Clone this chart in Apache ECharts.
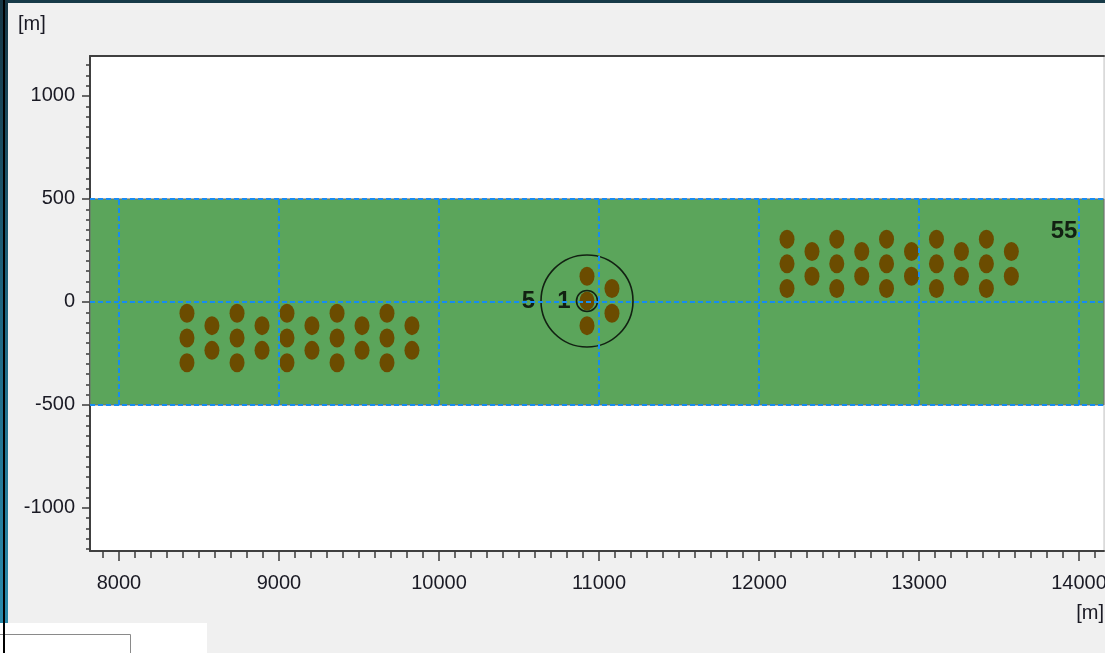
<!DOCTYPE html>
<html>
<head>
<meta charset="utf-8">
<script src="https://cdn.jsdelivr.net/npm/echarts@6.0.0/dist/echarts.min.js"></script>
<style>
  html, body { margin: 0; padding: 0; background: #f0f0f0; overflow: hidden; }
  #chart { width: 1105px; height: 653px; }
</style>
</head>
<body>
<div id="chart"></div>
<script>
// Axis extents (metres)
const X_MIN = 7819, X_MAX = 14156;
const Y_MIN = -1209, Y_MAX = 1194;

// Tick positions and labels
const xMajorTicks = [8000, 9000, 10000, 11000, 12000, 13000, 14000];
const xMinorTicks = [7900, 8000, 8100, 8200, 8300, 8400, 8500, 8600, 8700, 8800, 8900,
  9000, 9100, 9200, 9300, 9400, 9500, 9600, 9700, 9800, 9900,
  10000, 10100, 10200, 10300, 10400, 10500, 10600, 10700, 10800, 10900,
  11000, 11100, 11200, 11300, 11400, 11500, 11600, 11700, 11800, 11900,
  12000, 12100, 12200, 12300, 12400, 12500, 12600, 12700, 12800, 12900,
  13000, 13100, 13200, 13300, 13400, 13500, 13600, 13700, 13800, 13900,
  14000, 14100];
const yMajorTicks = [-1000, -500, 0, 500, 1000];
const yMinorTicks = [-1200, -1150, -1100, -1050, -1000, -950, -900, -850, -800, -750,
  -700, -650, -600, -550, -500, -450, -400, -350, -300, -250, -200, -150, -100, -50,
  0, 50, 100, 150, 200, 250, 300, 350, 400, 450, 500, 550, 600, 650, 700, 750,
  800, 850, 900, 950, 1000, 1050, 1100, 1150];

// Corridor band and its reference lines
const bandRange = [-500, 500];
const gridLinesX = [8000, 9000, 10000, 11000, 12000, 13000, 14000];
const gridLinesY = [-500, 0, 500];

// Turbine positions [x, y]
const westGroup = [
  [8425, -55], [8425, -175], [8425, -295],
  [8581, -115], [8581, -235],
  [8738, -55], [8738, -175], [8738, -295],
  [8894, -115], [8894, -235],
  [9050, -55], [9050, -175], [9050, -295],
  [9206, -115], [9206, -235],
  [9363, -55], [9363, -175], [9363, -295],
  [9519, -115], [9519, -235],
  [9675, -55], [9675, -175], [9675, -295],
  [9831, -115], [9831, -235]
];
const centreGroup = [
  [10925, 125], [10925, 5], [10925, -115],
  [11081, 65], [11081, -55]
];
const eastGroup = [
  [12175, 305], [12175, 185], [12175, 65],
  [12331, 245], [12331, 125],
  [12486, 305], [12486, 185], [12486, 65],
  [12642, 245], [12642, 125],
  [12797, 305], [12797, 185], [12797, 65],
  [12953, 245], [12953, 125],
  [13109, 305], [13109, 185], [13109, 65],
  [13265, 245], [13265, 125],
  [13421, 305], [13421, 185], [13421, 65],
  [13577, 245], [13577, 125]
];

// Range rings around the centre turbine: [x, y, label]
const rings = [[10925, 5, '5'], [10925, 5, '1']];
const ringPixelSizes = [92, 21];

// Free text annotations: [x, y, text]
const notes = [[13906, 345, '55']];

const FONT = '"Liberation Sans", Arial, sans-serif';
const TICK_COLOR = '#3a3a3a';
const LABEL_COLOR = '#1a1a24';

const chart = echarts.init(document.getElementById('chart'), null, { renderer: 'canvas' });

const hidden = { show: false };
const plainNumber = v => String(v);
const option = {
  backgroundColor: '#f0f0f0',
  animation: false,
  grid: {
    left: 90, top: 56, width: 1014, height: 495,
    outerBoundsMode: 'none', containLabel: false,
    show: true, backgroundColor: '#ffffff',
    borderColor: '#c4c4c4', borderWidth: 1
  },
  xAxis: [
    {
      type: 'value', min: X_MIN, max: X_MAX, position: 'bottom',
      axisLine: { show: true, onZero: false, lineStyle: { color: '#404040', width: 2 } },
      axisTick: { show: true, customValues: xMinorTicks, length: 7, lineStyle: { color: TICK_COLOR, width: 1.5 } },
      axisLabel: hidden, splitLine: hidden
    },
    {
      type: 'value', min: X_MIN, max: X_MAX, position: 'bottom',
      axisLine: { show: false, onZero: false },
      axisTick: { show: true, customValues: xMajorTicks, length: 10, lineStyle: { color: TICK_COLOR, width: 1.5 } },
      axisLabel: {
        show: true, customValues: xMajorTicks, margin: 22, formatter: plainNumber,
        fontSize: 20, fontFamily: FONT, color: LABEL_COLOR
      },
      splitLine: hidden
    },
    {
      type: 'value', min: X_MIN, max: X_MAX, position: 'top',
      axisLine: { show: true, onZero: false, lineStyle: { color: '#404040', width: 2 } },
      axisTick: hidden, axisLabel: hidden, splitLine: hidden
    }
  ],
  yAxis: [
    {
      type: 'value', min: Y_MIN, max: Y_MAX, position: 'left',
      axisLine: { show: true, onZero: false, lineStyle: { color: '#404040', width: 2 } },
      axisTick: { show: true, customValues: yMinorTicks, length: 4, lineStyle: { color: TICK_COLOR, width: 1.5 } },
      axisLabel: hidden, splitLine: hidden
    },
    {
      type: 'value', min: Y_MIN, max: Y_MAX, position: 'left',
      axisLine: { show: false, onZero: false },
      axisTick: { show: true, customValues: yMajorTicks, length: 8, lineStyle: { color: TICK_COLOR, width: 1.5 } },
      axisLabel: {
        show: true, customValues: yMajorTicks, margin: 15, formatter: plainNumber,
        padding: [5, 0, 0, 0],
        fontSize: 20, fontFamily: FONT, color: LABEL_COLOR
      },
      splitLine: hidden
    }
  ],
  series: [
    {
      // corridor band with dashed reference lines
      name: 'corridor', type: 'scatter', data: [], z: 1, silent: true,
      markArea: {
        silent: true,
        itemStyle: { color: '#5ba55b', borderColor: '#6e6e6e', borderWidth: 1 },
        data: [[{ yAxis: bandRange[0] }, { yAxis: bandRange[1] }]]
      },
      markLine: {
        silent: true, symbol: ['none', 'none'], label: { show: false },
        lineStyle: { color: '#168cf2', width: 2, type: [5, 3] },
        data: gridLinesX.map(x => [{ coord: [x, bandRange[0]] }, { coord: [x, bandRange[1]] }])
          .concat(gridLinesY.map(y => ({ yAxis: y })))
      }
    },
    {
      name: 'turbines', type: 'scatter', z: 3, silent: true,
      symbol: 'circle', symbolSize: [15, 19],
      itemStyle: { color: '#6b4c00', opacity: 1 },
      data: westGroup.concat(centreGroup, eastGroup)
    },
    {
      name: 'rings', type: 'scatter', z: 4, silent: true,
      symbol: 'circle',
      itemStyle: { color: 'rgba(0,0,0,0)', borderColor: '#000000', borderWidth: 1.6 },
      label: {
        show: true, position: 'left', distance: 5,
        formatter: p => p.value[2],
        fontSize: 24, fontWeight: 'bold', fontFamily: FONT, color: '#000000'
      },
      data: rings.map((r, i) => ({ value: r, symbolSize: ringPixelSizes[i] }))
    },
    {
      name: 'notes', type: 'scatter', z: 5, silent: true,
      symbolSize: 0,
      label: {
        show: true, position: 'inside',
        formatter: p => p.value[2],
        fontSize: 24, fontWeight: 'bold', fontFamily: FONT, color: '#000000'
      },
      data: notes
    }
  ],
  graphic: [
    // window frame
    { type: 'rect', left: 0, top: 0, shape: { width: 1105, height: 3 }, style: { fill: '#173a48' }, z: 10 },
    {
      type: 'rect', left: 0, top: 0, shape: { width: 8, height: 623 }, z: 10,
      style: {
        fill: new echarts.graphic.LinearGradient(0, 0, 0, 1, [
          { offset: 0, color: '#163644' },
          { offset: 0.5, color: '#1f6680' },
          { offset: 1, color: '#2b8aab' }
        ])
      }
    },
    { type: 'rect', left: 0, top: 623, shape: { width: 207, height: 30 }, style: { fill: '#ffffff' }, z: 10 },
    { type: 'line', shape: { x1: 0, y1: 634.5, x2: 130.5, y2: 634.5 }, style: { stroke: '#8a8a8a', lineWidth: 1 }, z: 11 },
    { type: 'line', shape: { x1: 130.5, y1: 634.5, x2: 130.5, y2: 653 }, style: { stroke: '#8a8a8a', lineWidth: 1 }, z: 11 },
    { type: 'rect', left: 3, top: 0, shape: { width: 2, height: 653 }, style: { fill: '#000000' }, z: 12 },
    // axis unit captions
    {
      type: 'text', left: 18, top: 14, z: 10,
      style: { text: '[m]', font: '20px ' + FONT, fill: LABEL_COLOR }
    },
    {
      type: 'text', right: 1, top: 603, z: 10,
      style: { text: '[m]', font: '20px ' + FONT, fill: LABEL_COLOR }
    }
  ]
};

chart.setOption(option);
</script>
</body>
</html>
